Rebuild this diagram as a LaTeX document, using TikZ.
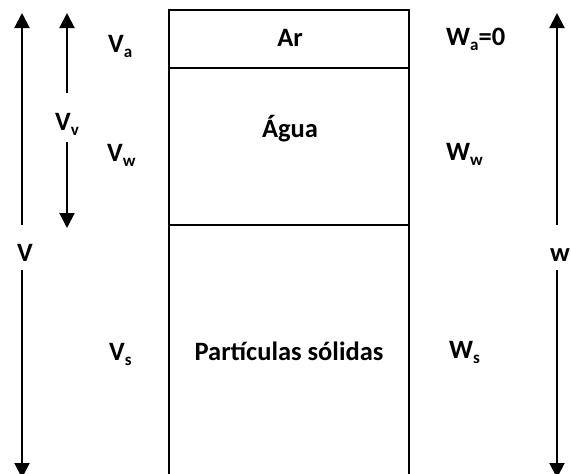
\documentclass[tikz,border=0pt]{standalone}
\usepackage{fontspec}
\setmainfont{Carlito}
\usetikzlibrary{arrows.meta}
\newcommand\sbx[1]{\raisebox{-0.2em}{\fontsize{17}{17}\selectfont #1}}
\begin{document}
\begin{tikzpicture}[x=1pt,y=-1pt,
  lbl/.style={inner sep=0pt,font=\fontsize{26.5}{30}\selectfont\bfseries},
  arr/.style={line width=2pt,-{Triangle[width=15pt,length=15pt]}},
  box/.style={line width=2pt}]
\useasboundingbox (0,0) rectangle (571,474);
\begin{scope}
\clip (0,0) rectangle (571,474);
% box
\draw[box] (169,480) -- (169,10) -- (409,10) -- (409,480);
\draw[box] (169,68) -- (409,68);
\draw[box] (169,225) -- (409,225);
% coordinates for arrows
\coordinate (vtop) at (22,13);
\coordinate (vmid) at (22,225);
\coordinate (vbot) at (22,478);
\coordinate (vvtop) at (67,13);
\coordinate (vvbot) at (67,228);
\coordinate (wtop) at (557,13);
\coordinate (wmid) at (557,225);
\coordinate (wbot) at (557,478);
% labels
\node[lbl,anchor=base] (V) at (25,261) {V};
\node[lbl,anchor=base] (Vv) at (67,130) {V\sbx{v}};
\node[lbl,anchor=base] (w) at (560,261) {w};
\node[lbl,anchor=base west] (Va) at (108,52) {V\sbx{a}};
\node[lbl,anchor=base west] (Vw) at (107,161) {V\sbx{w}};
\node[lbl,anchor=base west] (Vs) at (109,360) {V\sbx{s}};
\node[lbl,anchor=base west] (Wa) at (446,45) {W\sbx{a}=0};
\node[lbl,anchor=base west] (Ww) at (446,160) {W\sbx{w}};
\node[lbl,anchor=base west] (Ws) at (449,358) {W\sbx{s}};
\node[lbl,anchor=base] (ar) at (290,46) {Ar};
\node[lbl,anchor=base] (ag) at (290,137) {Água};
\node[lbl,anchor=base] (ps) at (289,360) {Partículas sólidas};
% arrows
\draw[arr] (vmid) -- (vtop);
\draw[arr] (22,270) -- (vbot);
\draw[arr] (67,93) -- (vvtop);
\draw[arr] (67,142) -- (vvbot);
\draw[arr] (wmid) -- (wtop);
\draw[arr] (557,270) -- (wbot);
\end{scope}
\end{tikzpicture}
\end{document}
